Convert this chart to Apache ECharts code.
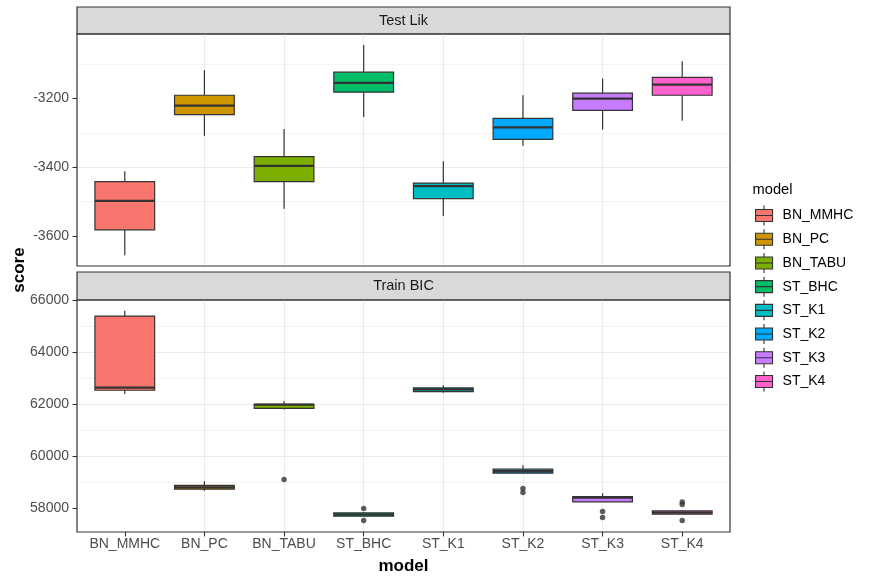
<!DOCTYPE html>
<html>
<head>
<meta charset="utf-8">
<script src="https://cdn.jsdelivr.net/npm/echarts@6/dist/echarts.min.js"></script>
<style>
html,body{margin:0;padding:0;background:#fff;}
#chart{width:870px;height:582px;}
</style>
</head>
<body>
<div id="chart"></div>
<script>
// ---- data ----
const categories = ['BN_MMHC','BN_PC','BN_TABU','ST_BHC','ST_K1','ST_K2','ST_K3','ST_K4'];
const palette = ['#F8766D','#CD9600','#7CAE00','#00BE67','#00BFC4','#00A9FF','#C77CFF','#FF61CC'];

// Test Lik panel: box statistics
const testMin = [-3656, -3309, -3521, -3254, -3542, -3338, -3291, -3265];
const testQ1  = [-3582, -3247, -3442, -3182, -3491, -3319, -3235, -3191];
const testMed = [-3498, -3221, -3396, -3155, -3455, -3284, -3201, -3160];
const testQ3  = [-3442, -3191, -3369, -3124, -3446, -3258, -3185, -3139];
const testMax = [-3412, -3118, -3289, -3045, -3383, -3191, -3142, -3092];

// Train BIC panel: box statistics
const trainMin = [62396, 58677, 61795, 57704, 62446, 59358, 58254, 57781];
const trainQ1  = [62538, 58742, 61840, 57704, 62485, 59358, 58254, 57781];
const trainMed = [62638, 58810, 61985, 57770, 62570, 59430, 58423, 57840];
const trainQ3  = [65385, 58885, 62000, 57831, 62627, 59512, 58462, 57908];
const trainMax = [65588, 59050, 62128, 57870, 62730, 59665, 58588, 57930];

// Train BIC outliers
const outlierModel = ['BN_TABU','ST_BHC','ST_BHC','ST_K2','ST_K2','ST_K3','ST_K3','ST_K4','ST_K4','ST_K4'];
const outlierScore = [59115, 58000, 57538, 58769, 58615, 57885, 57654, 58254, 58154, 57538];

const panelTitles = ['Test Lik', 'Train BIC'];
const testTicks = [-3600, -3400, -3200];
const trainTicks = [58000, 60000, 62000, 64000, 66000];
const catPositions = [1, 2, 3, 4, 5, 6, 7, 8];

// ---- build ----
const FONT = '"Liberation Sans", Arial, Helvetica, sans-serif';
const boxes = (mn, q1, md, q3, mx) => categories.map((c, i) => [i + 1, mn[i], q1[i], md[i], q3[i], mx[i]]);
const testBoxes = boxes(testMin, testQ1, testMed, testQ3, testMax);
const trainBoxes = boxes(trainMin, trainQ1, trainMed, trainQ3, trainMax);
const trainOutliers = outlierModel.map((m, k) => [categories.indexOf(m) + 1, outlierScore[k]]);

function renderBox(params, api) {
  const x = api.value(0);
  const lo = api.coord([x, api.value(1)]);
  const q1 = api.coord([x, api.value(2)]);
  const md = api.coord([x, api.value(3)]);
  const q3 = api.coord([x, api.value(4)]);
  const hi = api.coord([x, api.value(5)]);
  const bw = api.size([0.75, 0])[0];
  const cx = md[0];
  const col = palette[x - 1];
  return {
    type: 'group',
    children: [
      { type: 'line', shape: { x1: cx, y1: lo[1], x2: cx, y2: q1[1] }, style: { stroke: '#333333', lineWidth: 1.2 } },
      { type: 'line', shape: { x1: cx, y1: q3[1], x2: cx, y2: hi[1] }, style: { stroke: '#333333', lineWidth: 1.2 } },
      { type: 'rect', shape: { x: cx - bw / 2, y: q3[1], width: bw, height: q1[1] - q3[1] }, style: { fill: col, stroke: '#333333', lineWidth: 1.2 } },
      { type: 'line', shape: { x1: cx - bw / 2, y1: md[1], x2: cx + bw / 2, y2: md[1] }, style: { stroke: '#333333', lineWidth: 2.3 } }
    ]
  };
}

const PANEL_LEFT = 77, PANEL_RIGHT = 140;

function yAxisCfg(gridIndex, min, max, step, ticks) {
  return {
    type: 'value', gridIndex: gridIndex, min: min, max: max, splitNumber: 4,
    axisLine: { show: false },
    axisTick: { show: true, length: 4.5, customValues: ticks, lineStyle: { color: '#333333', width: 1.1 } },
    axisLabel: {
      show: true, margin: 8, color: '#4D4D4D', fontSize: 14, fontFamily: FONT, customValues: ticks,
      formatter: function (v) { return Math.abs(v % step) < 1e-6 ? String(v) : ''; }
    },
    splitLine: { show: true, showMinLine: false, showMaxLine: false, lineStyle: { color: '#EBEBEB', width: 1.1 } },
    minorTick: { show: false, splitNumber: 2 },
    minorSplitLine: { show: true, lineStyle: { color: '#EBEBEB', width: 0.6 } }
  };
}

function xAxisCfg(gridIndex, showLabels) {
  return {
    type: 'value', gridIndex: gridIndex, min: 0.4, max: 8.6, splitNumber: 8,
    axisLine: { show: false },
    axisTick: { show: showLabels, length: 4.5, customValues: catPositions, lineStyle: { color: '#333333', width: 1.1 } },
    axisLabel: {
      show: showLabels, margin: 5, color: '#4D4D4D', fontSize: 14, fontFamily: FONT, customValues: catPositions,
      formatter: function (v) { return (Number.isInteger(v) && v >= 1 && v <= categories.length) ? categories[v - 1] : ''; }
    },
    splitLine: { show: true, showMinLine: false, showMaxLine: false, lineStyle: { color: '#EBEBEB', width: 1.1 } },
    minorSplitLine: { show: false }
  };
}

const legendSeries = categories.map((c, i) => ({
  name: c, type: 'bar', xAxisIndex: 2, yAxisIndex: 2, data: [],
  itemStyle: { color: palette[i] }
}));

const option = {
  animation: false,
  backgroundColor: '#FFFFFF',
  textStyle: { fontFamily: FONT },
  grid: [
    { left: PANEL_LEFT, right: PANEL_RIGHT, top: 34, height: 232, show: true, z: 10, borderColor: '#333333', borderWidth: 1.2, backgroundColor: 'transparent' },
    { left: PANEL_LEFT, right: PANEL_RIGHT, top: 300, height: 232, show: true, z: 10, borderColor: '#333333', borderWidth: 1.2, backgroundColor: 'transparent' },
    { left: PANEL_LEFT, right: PANEL_RIGHT, top: 7, height: 27, show: true, borderColor: '#333333', borderWidth: 1.2, backgroundColor: '#D9D9D9' },
    { left: PANEL_LEFT, right: PANEL_RIGHT, top: 272, height: 28, show: true, borderColor: '#333333', borderWidth: 1.2, backgroundColor: '#D9D9D9' }
  ],
  xAxis: [
    xAxisCfg(0, false),
    xAxisCfg(1, true),
    { type: 'category', gridIndex: 2, data: [], show: false },
    { type: 'category', gridIndex: 3, data: [], show: false }
  ],
  yAxis: [
    yAxisCfg(0, -3687, -3013, 200, testTicks),
    yAxisCfg(1, 57100, 66000, 2000, trainTicks),
    { type: 'value', gridIndex: 2, show: false },
    { type: 'value', gridIndex: 3, show: false }
  ],
  legend: {
    orient: 'vertical', left: 755, top: 205, padding: 0,
    itemWidth: 17, itemHeight: 20, itemGap: 2.6,
    icon: 'path://M0,4L17,4L17,10L0,10Z M0,10L17,10L17,16L0,16Z M8.5,0L8.5,4 M8.5,16L8.5,20',
    itemStyle: { borderColor: '#333333', borderWidth: 1.1 },
    textStyle: { fontSize: 14, color: '#000000', fontFamily: FONT, padding: [0, 0, 0, 5] },
    data: categories,
    selectedMode: false
  },
  graphic: [
    { type: 'text', x: 403.5, y: 20.5, style: { text: panelTitles[0], fill: '#1A1A1A', font: '14.5px ' + FONT, align: 'center', verticalAlign: 'middle' } },
    { type: 'text', x: 403.5, y: 286, style: { text: panelTitles[1], fill: '#1A1A1A', font: '14.5px ' + FONT, align: 'center', verticalAlign: 'middle' } },
    { type: 'text', x: 19.5, y: 270, rotation: Math.PI / 2, style: { text: 'score', fill: '#000000', font: 'bold 17px ' + FONT, align: 'center', verticalAlign: 'middle' } },
    { type: 'text', x: 403.5, y: 566, style: { text: 'model', fill: '#000000', font: 'bold 17px ' + FONT, align: 'center', verticalAlign: 'middle' } },
    { type: 'text', x: 752.5, y: 189.5, style: { text: 'model', fill: '#000000', font: '14.7px ' + FONT, align: 'left', verticalAlign: 'middle' } }
  ],
  series: [
    { type: 'custom', name: 'Test Lik', xAxisIndex: 0, yAxisIndex: 0, renderItem: renderBox,
      data: testBoxes, encode: { x: 0, y: [1, 2, 3, 4, 5] }, z: 3 },
    { type: 'custom', name: 'Train BIC', xAxisIndex: 1, yAxisIndex: 1, renderItem: renderBox,
      data: trainBoxes, encode: { x: 0, y: [1, 2, 3, 4, 5] }, z: 3 },
    { type: 'scatter', name: 'outliers', xAxisIndex: 1, yAxisIndex: 1, data: trainOutliers,
      symbol: 'circle', symbolSize: 5.5, itemStyle: { color: '#333333' }, z: 4 }
  ].concat(legendSeries)
};

const chart = echarts.init(document.getElementById('chart'), null, { renderer: 'canvas' });
chart.setOption(option);
</script>
</body>
</html>
